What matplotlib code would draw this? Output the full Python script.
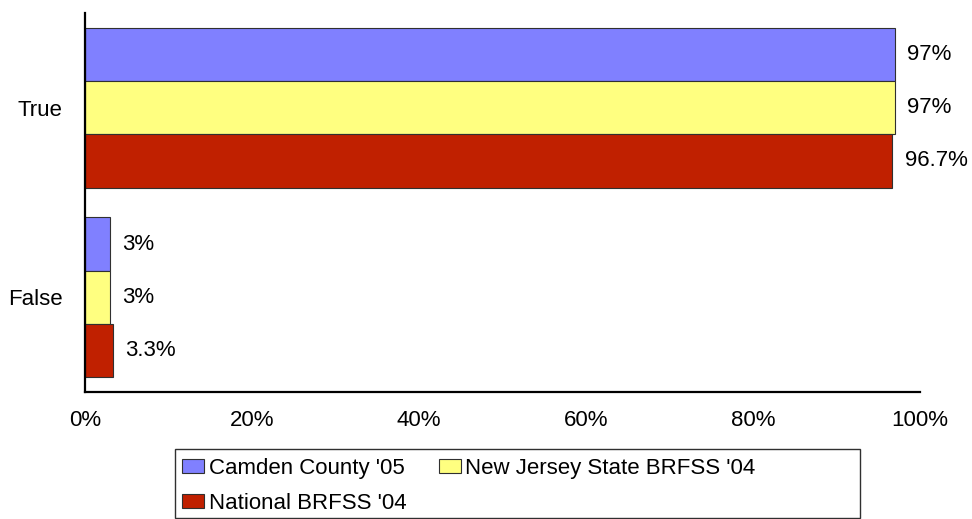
import matplotlib
matplotlib.use("Agg")
import matplotlib.pyplot as plt
from matplotlib.patches import Rectangle
import numpy as np

categories = ["True", "False"]
series_names = ["Camden County '05", "New Jersey State BRFSS '04", "National BRFSS '04"]
camden = [97, 3]
nj = [97, 3]
national = [96.7, 3.3]
labels_camden = ["97%", "3%"]
labels_nj = ["97%", "3%"]
labels_national = ["96.7%", "3.3%"]
xticks = [0, 20, 40, 60, 80, 100]
xticklabels = ["0%", "20%", "40%", "60%", "80%", "100%"]

colors = ["#8080FF", "#FFFF80", "#C02000"]

plt.rcParams['font.family'] = ['Liberation Sans', 'DejaVu Sans']
FS = 16

W, H = 972, 519
fig = plt.figure(figsize=(W/100, H/100), dpi=100)
ax = fig.add_axes([85/W, 1-392/H, (920-85)/W, (392-13)/H])

y = np.arange(len(categories))
h = 0.281
offsets = [-h, 0, h]
all_vals = [camden, nj, national]
all_labels = [labels_camden, labels_nj, labels_national]
handles = []
for vals, labs, off, c, name in zip(all_vals, all_labels, offsets, colors, series_names):
    bars = ax.barh(y + off, vals, height=h, color=c, edgecolor="#303030", linewidth=0.8, label=name)
    handles.append(bars)
    for b, lab in zip(bars, labs):
        ax.annotate(lab, (b.get_width(), b.get_y() + b.get_height()/2),
                    xytext=(9, 0), textcoords="offset points",
                    ha="left", va="center", fontsize=FS, color="black")

ax.set_xlim(0, 100)
ax.set_ylim(1.5, -0.5)
ax.set_yticks(y)
ax.set_yticklabels(categories, fontsize=FS)
ax.set_xticks(xticks)
ax.set_xticklabels(xticklabels, fontsize=FS)
ax.tick_params(axis="x", length=0, pad=13)
ax.tick_params(axis="y", length=0, pad=16)
for s in ["top", "right"]:
    ax.spines[s].set_visible(False)
for s in ["left", "bottom"]:
    ax.spines[s].set_linewidth(1.6)
    ax.spines[s].set_color("black")

# legend frame
fig.patches.append(Rectangle((175/W, 1-518/H), (860-175)/W, (518-449)/H,
                             transform=fig.transFigure, fill=False,
                             edgecolor="#303030", linewidth=1.0))

order = [0, 2, 1]
leg = fig.legend([handles[i] for i in order], [series_names[i] for i in order],
                 ncol=2, loc="upper left", bbox_to_anchor=(182/W, 1-458/H),
                 fontsize=FS, frameon=False,
                 handlelength=1.0, handleheight=0.63, handletextpad=0.2,
                 columnspacing=1.45, borderpad=0, labelspacing=0.62, borderaxespad=0)

fig.savefig("out.png", dpi=100)
